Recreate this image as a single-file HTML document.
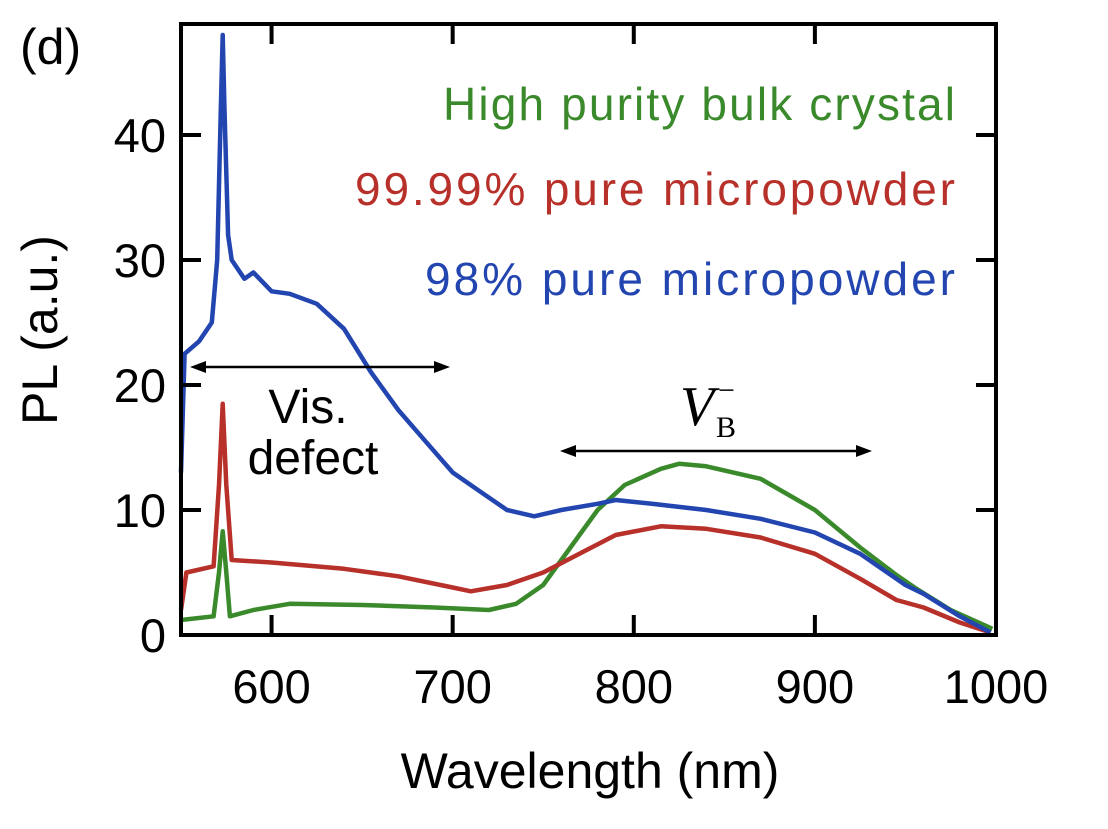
<!DOCTYPE html>
<html><head><meta charset="utf-8"><style>
body{margin:0;background:#fff;}
svg text{font-family:"Liberation Sans",sans-serif;}
</style></head><body>
<svg width="1108" height="824" viewBox="0 0 1108 824">
<g id="plot"></g>
<rect x="181" y="24" width="815" height="611" fill="none" stroke="#000" stroke-width="4"/>
<g id="ticks"></g>
<text x="20" y="64" font-size="50">(d)</text>
<text x="955" y="120" font-size="46" fill="#3a8a2c" text-anchor="end" textLength="512">High purity bulk crystal</text>
<text x="955" y="205" font-size="46" fill="#b8302a" text-anchor="end" textLength="600">99.99% pure micropowder</text>
<text x="955" y="295" font-size="46" fill="#2245b0" text-anchor="end" textLength="530">98% pure micropowder</text>
<g stroke="#000" stroke-width="2.5" fill="#000">
<line x1="200" y1="367" x2="440" y2="367"/>
<polygon points="190,367 206,361 206,373" stroke="none"/>
<polygon points="450,367 434,361 434,373" stroke="none"/>
</g>
<text x="308" y="423" font-size="48" text-anchor="middle">Vis.</text>
<text x="313" y="474" font-size="48" text-anchor="middle">defect</text>
<g stroke="#000" stroke-width="2.5" fill="#000">
<line x1="570" y1="451" x2="862" y2="451"/>
<polygon points="560,451 576,445 576,457" stroke="none"/>
<polygon points="872,451 856,445 856,457" stroke="none"/>
</g>
<text x="680" y="425" font-size="56" font-style="italic" style="font-family:'Liberation Serif',serif">V</text>
<text x="716" y="437" font-size="30" style="font-family:'Liberation Serif',serif">B</text>
<text x="718" y="400" font-size="30" style="font-family:'Liberation Serif',serif">−</text>
<text x="590" y="788" font-size="50" text-anchor="middle">Wavelength (nm)</text>
<text transform="translate(57,330) rotate(-90)" font-size="50" text-anchor="middle">PL (a.u.)</text>
</svg>
<script>
const xTicks=[600,700,800,900,1000];
const yTicks=[0,10,20,30,40];
const blueX=[550,552,560,567,570,572,573,574,576,578,585,590,600,610,625,640,655,670,685,700,715,730,745,760,780,790,810,840,870,900,925,950,960,980,997];
const blueY=[13,22.5,23.5,25,30,42,48,42,32,30,28.5,29,27.5,27.3,26.5,24.5,21,18,15.5,13,11.5,10,9.5,10,10.5,10.8,10.5,10,9.3,8.2,6.5,4,3.3,1.5,0.2];
const redX=[550,553,568,571,573,575,578,600,640,670,700,710,730,750,770,790,815,840,870,900,925,945,960,980,997];
const redY=[2,5,5.5,12,18.5,12,6,5.8,5.3,4.7,3.8,3.5,4,5,6.5,8,8.7,8.5,7.8,6.5,4.5,2.8,2.2,1,0.2];
const greenX=[550,568,571,573,575,577,590,610,650,690,720,735,750,765,780,795,815,825,840,870,900,925,945,955,975,998];
const greenY=[1.2,1.5,5,8.3,5,1.5,2,2.5,2.4,2.2,2,2.5,4,7,10,12,13.3,13.7,13.5,12.5,10,7,4.8,3.8,2,0.5];
const X=v=>181+(v-550)*(815/450);
const Y=v=>635-v*12.5;
const NS='http://www.w3.org/2000/svg';
const plot=document.getElementById('plot');
function line(xs,ys,col,name){
  const p=document.createElementNS(NS,'path');
  p.setAttribute('d',xs.map((x,i)=>(i?'L':'M')+X(x).toFixed(1)+','+Y(ys[i]).toFixed(1)).join(''));
  p.setAttribute('fill','none');p.setAttribute('stroke',col);p.setAttribute('stroke-width','4.5');p.setAttribute('stroke-linejoin','round');
  
  
  plot.appendChild(p);
}
line(greenX,greenY,'#3a8a2c','series-bulk-crystal');
line(redX,redY,'#b8302a','series-9999-powder');
line(blueX,blueY,'#2245b0','series-98-powder');
const tk=document.getElementById('ticks');
xTicks.forEach(v=>{
  if(v<1000){
  const l=document.createElementNS(NS,'path');
  l.setAttribute('d',`M${X(v)},635v-20M${X(v)},24v20`);l.setAttribute('stroke','#000');l.setAttribute('stroke-width','4');
  
  
  tk.appendChild(l);}
  const t=document.createElementNS(NS,'text');
  t.setAttribute('x',X(v));t.setAttribute('y',703);t.setAttribute('font-size','47');t.setAttribute('text-anchor','middle');
  t.textContent=v;
  
  
  tk.appendChild(t);
});
yTicks.forEach(v=>{
  if(v>0){
  const l=document.createElementNS(NS,'path');
  l.setAttribute('d',`M181,${Y(v)}h20M996,${Y(v)}h-20`);l.setAttribute('stroke','#000');l.setAttribute('stroke-width','4');
  
  
  tk.appendChild(l);}
  const t=document.createElementNS(NS,'text');
  t.setAttribute('x',166);t.setAttribute('y',Y(v)+17);t.setAttribute('font-size','47');t.setAttribute('text-anchor','end');
  t.textContent=v;
  
  
  tk.appendChild(t);
});
</script>
</body></html>
